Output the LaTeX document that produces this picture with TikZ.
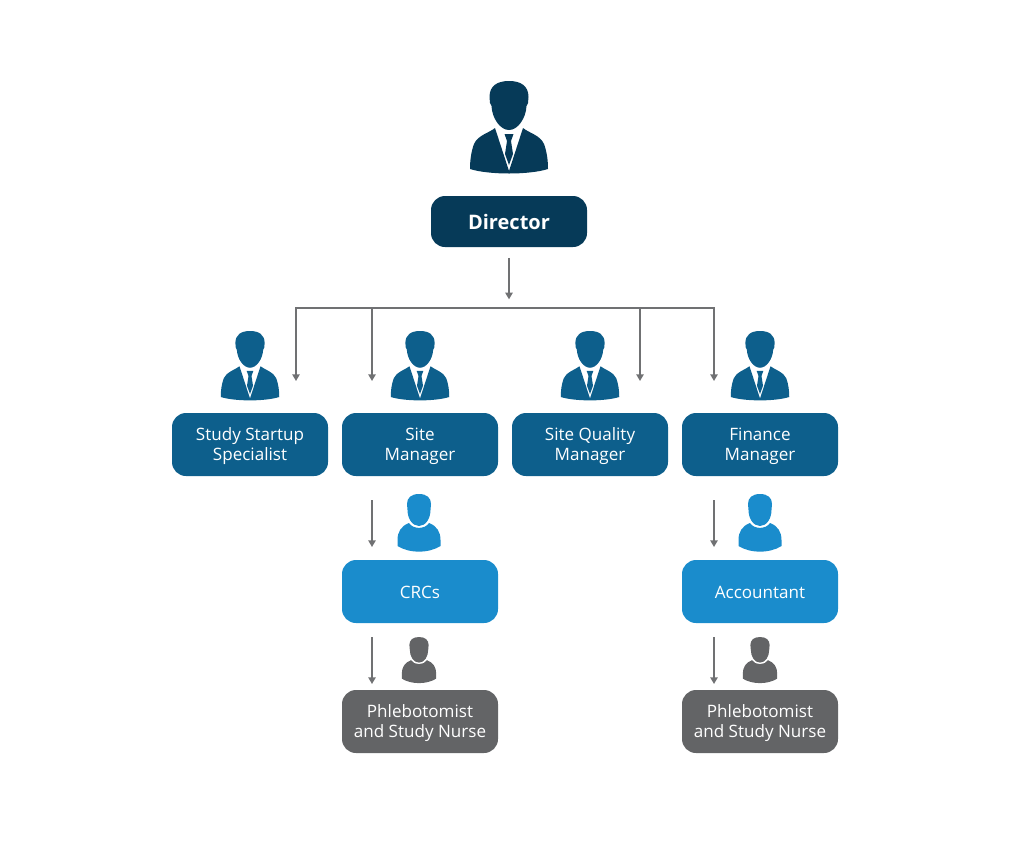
\documentclass[tikz,border=0pt]{standalone}
\usepackage{fontspec}
\setmainfont{Open Sans}
\usepackage{tikz}
\usetikzlibrary{arrows.meta, positioning, calc}
\definecolor{navy}{RGB}{6,58,88}
\definecolor{steel}{RGB}{13,95,140}
\definecolor{sky}{RGB}{26,140,204}
\definecolor{slate}{RGB}{99,100,102}
\definecolor{wire}{RGB}{112,113,115}

\tikzset{
  rolebox/.style={rounded corners=10.5pt, minimum width=117pt, minimum height=47.25pt,
    inner sep=0pt, align=center, text=white, font=\fontsize{12.8}{15}\selectfont},
  lead/.style={rolebox, fill=navy, minimum height=38.25pt, font=\fontsize{15}{18}\selectfont\bfseries},
  manager/.style={rolebox, fill=steel, execute at begin node={\rule{0pt}{26.7pt}}},
  staff/.style={rolebox, fill=sky, execute at begin node={\rule{0pt}{11pt}}},
  support/.style={rolebox, fill=slate, execute at begin node={\rule{0pt}{26.7pt}}},
  link/.style={draw=wire, line width=1.1pt},
  flow/.style={link, -{Triangle[length=5pt, width=5.5pt]}},
  % person in a suit, origin at the top of the head
  pics/suit/.style={code={
    \fill[#1] (-14,47) .. controls (-20,52) and (-31,54) .. (-35,63)
      .. controls (-38,71) and (-39,80) .. (-39,88)
      .. controls (-20,94) and (20,94) .. (39,88)
      .. controls (39,80) and (38,71) .. (35,63)
      .. controls (31,54) and (20,52) .. (14,47) -- (0,90) -- cycle;
    \fill[#1] (0,0) .. controls (12,0) and (19.5,5) .. (19.5,16) -- (19,22) -- (17.5,25)
      .. controls (17,37) and (9,49) .. (0,49)
      .. controls (-9,49) and (-17,37) .. (-17.5,25) -- (-19,22) -- (-19.5,16)
      .. controls (-19.5,5) and (-12,0) .. (0,0) -- cycle;
    \fill[#1] (-4.5,53) -- (4.5,53) -- (2,60) -- (4,73) -- (0,84) -- (-4,73) -- (-2,60) -- cycle;
  }},
  % person without a suit
  pics/plain/.style={code={
    \fill[#1] (-10,29) .. controls (-18,32) and (-21.5,38) .. (-21.5,46)
      -- (-21.5,52) .. controls (-10,59.5) and (10,59.5) .. (21.5,52) -- (21.5,46)
      .. controls (21.5,38) and (18,32) .. (10,29) .. controls (6,35.5) and (-6,35.5) .. (-10,29) -- cycle;
    \fill[#1] (0,0) .. controls (8,0) and (12,4) .. (12,10) -- (11.5,16)
      .. controls (11.5,24) and (7,32) .. (0,32)
      .. controls (-7,32) and (-11.5,24) .. (-11.5,16) -- (-12,10)
      .. controls (-12,4) and (-8,0) .. (0,0) -- cycle;
  }},
}

\begin{document}
\begin{tikzpicture}[x=0.75pt, y=-0.75pt]
  \useasboundingbox (0,0) rectangle (1024,847);

  % boxes
  \node[lead] (director) at (509,221.5) {Director};
  \node[manager] (startup) at (250,444.5) {Study Startup\\Specialist};
  \node[manager] (site) at (420,444.5) {Site\\Manager};
  \node[manager] (quality) at (590,444.5) {Site Quality\\Manager};
  \node[manager] (finance) at (760,444.5) {Finance\\Manager};
  \node[staff] (crcs) at (420,591.5) {CRCs};
  \node[staff] (accountant) at (760,591.5) {Accountant};
  \node[support] (nurseA) at (420,721.5) {Phlebotomist\\and Study Nurse};
  \node[support] (nurseB) at (760,721.5) {Phlebotomist\\and Study Nurse};

  % people
  \pic at (509,81) {suit=navy};
  \foreach \px in {250,420,590,760}
    \pic[scale=0.75] at (\px,331) {suit=steel};
  \foreach \px in {419,760} {
    \pic at (\px,494) {plain=sky};
    \pic[scale=0.8] at (\px,637) {plain=slate};
  }

  % director down to the bus
  \coordinate (busMid) at (509,308);
  \draw[flow, shorten <=8pt, shorten >=6.5pt] (director.south) -- (busMid);

  % bus and its drops
  \coordinate (busA) at (296,308);
  \coordinate (busB) at (372,308);
  \coordinate (busC) at (640,308);
  \coordinate (busD) at (714,308);
  \coordinate (endA) at (296,381);
  \coordinate (endB) at (372,381);
  \coordinate (endC) at (640,381);
  \coordinate (endD) at (714,381);
  \draw[link, line cap=rect] (busA) -- (busD);
  \draw[flow] (busA) -- (endA);
  \draw[flow] (busB) -- (endB);
  \draw[flow] (busC) -- (endC);
  \draw[flow] (busD) -- (endD);

  % arrows under the managers
  \coordinate (siteOut) at (372,500);
  \coordinate (crcsIn) at (372,547);
  \coordinate (crcsOut) at (372,637);
  \coordinate (nurseAIn) at (372,684);
  \coordinate (financeOut) at (714,500);
  \coordinate (accountantIn) at (714,547);
  \coordinate (accountantOut) at (714,637);
  \coordinate (nurseBIn) at (714,684);
  \draw[flow] (siteOut) -- (crcsIn);
  \draw[flow] (crcsOut) -- (nurseAIn);
  \draw[flow] (financeOut) -- (accountantIn);
  \draw[flow] (accountantOut) -- (nurseBIn);
\end{tikzpicture}
\end{document}
